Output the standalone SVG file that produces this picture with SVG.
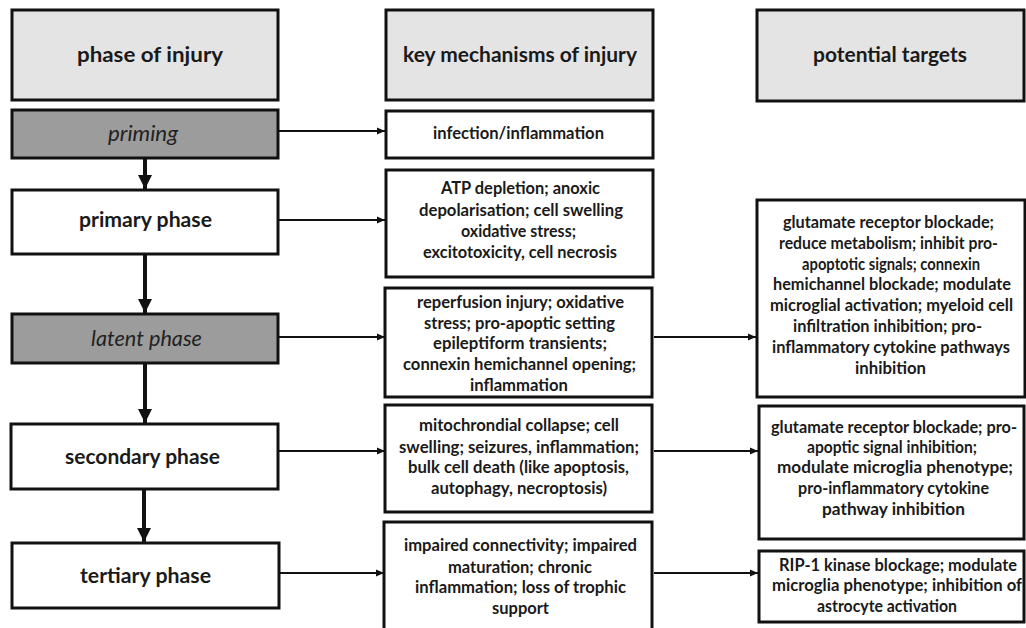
<svg xmlns="http://www.w3.org/2000/svg" width="1026" height="628" viewBox="0 0 1026 628">
<defs>
<style>
.box{stroke:#111;stroke-width:3;fill:#fff}
.hdr{fill:#e4e4e4}
.dark{fill:#9c9c9c}
text{font-family:Lato,"Liberation Sans",sans-serif;fill:#1a1a1a}
.h{font-size:21.5px;font-weight:bold}
.b{font-size:16.5px;font-weight:bold}
.l{font-size:21px;font-weight:bold}
.i{font-size:21px;font-style:italic;fill:#222}
.thin{stroke:#111;stroke-width:2;fill:none}
.thick{stroke:#111;stroke-width:4;fill:none}
</style>
<marker id="ah" markerWidth="8" markerHeight="8" refX="8" refY="4" orient="auto" markerUnits="userSpaceOnUse"><path d="M0,0.5 L8,4 L0,7.5 Z" fill="#111"/></marker>
<marker id="ahb" markerWidth="16" markerHeight="14" refX="14" refY="7" orient="auto" markerUnits="userSpaceOnUse"><path d="M0,0 L14,7 L0,14 Z" fill="#111"/></marker>
</defs>

<g id="connectors">
<line class="thin" x1="279" y1="131" x2="385" y2="131" marker-end="url(#ah)"/>
<line class="thin" x1="279" y1="220" x2="385" y2="220" marker-end="url(#ah)"/>
<line class="thin" x1="279" y1="337" x2="385" y2="337" marker-end="url(#ah)"/>
<line class="thin" x1="279" y1="451" x2="385" y2="451" marker-end="url(#ah)"/>
<line class="thin" x1="279" y1="573" x2="384" y2="573" marker-end="url(#ah)"/>
<line class="thin" x1="654" y1="337" x2="756" y2="337" marker-end="url(#ah)"/>
<line class="thin" x1="654" y1="451" x2="758" y2="451" marker-end="url(#ah)"/>
<line class="thin" x1="654" y1="573" x2="758" y2="573" marker-end="url(#ah)"/>
<line class="thick" x1="145" y1="159" x2="145" y2="189" marker-end="url(#ahb)"/>
<line class="thick" x1="145" y1="255" x2="145" y2="313" marker-end="url(#ahb)"/>
<line class="thick" x1="145" y1="364" x2="145" y2="423" marker-end="url(#ahb)"/>
<line class="thick" x1="144" y1="490" x2="144" y2="542" marker-end="url(#ahb)"/>
</g>

<g id="hdr-phase"><rect class="box hdr" x="12" y="10" width="266" height="90"/><text class="h" x="77" y="62" textLength="146" lengthAdjust="spacingAndGlyphs">phase of injury</text></g>
<g id="hdr-mech"><rect class="box hdr" x="386" y="10" width="267" height="90"/><text class="h" x="403" y="62" textLength="234" lengthAdjust="spacingAndGlyphs">key mechanisms of injury</text></g>
<g id="hdr-targets"><rect class="box hdr" x="757" y="10" width="267" height="91"/><text class="h" x="813" y="62" textLength="154" lengthAdjust="spacingAndGlyphs">potential targets</text></g>

<g id="priming"><rect class="box dark" x="12" y="110" width="266" height="48"/><text class="i" x="108" y="141" textLength="70" lengthAdjust="spacingAndGlyphs">priming</text></g>
<g id="primary"><rect class="box" x="12" y="190" width="266" height="64"/><text class="l" x="79" y="227" textLength="133" lengthAdjust="spacingAndGlyphs">primary phase</text></g>
<g id="latent"><rect class="box dark" x="12" y="314" width="266" height="49"/><text class="i" x="91" y="346" textLength="111" lengthAdjust="spacingAndGlyphs">latent phase</text></g>
<g id="secondary"><rect class="box" x="11" y="424" width="267" height="65"/><text class="l" x="65" y="464" textLength="155" lengthAdjust="spacingAndGlyphs">secondary phase</text></g>
<g id="tertiary"><rect class="box" x="12" y="543" width="267" height="65"/><text class="l" x="80" y="583" textLength="131" lengthAdjust="spacingAndGlyphs">tertiary phase</text></g>

<g id="mech-priming"><rect class="box" x="386" y="111" width="267" height="47"/><text class="b" x="433" y="139" textLength="171" lengthAdjust="spacingAndGlyphs">infection/inflammation</text></g>
<g id="mech-primary"><rect class="box" x="386" y="170" width="267" height="107"/>
<text class="b" x="441" y="194" textLength="159" lengthAdjust="spacingAndGlyphs">ATP depletion; anoxic</text>
<text class="b" x="419" y="216" textLength="204" lengthAdjust="spacingAndGlyphs">depolarisation; cell swelling</text>
<text class="b" x="461" y="237" textLength="115" lengthAdjust="spacingAndGlyphs">oxidative stress;</text>
<text class="b" x="423" y="258" textLength="194" lengthAdjust="spacingAndGlyphs">excitotoxicity, cell necrosis</text></g>
<g id="mech-latent"><rect class="box" x="385" y="288" width="267" height="109"/>
<text class="b" x="417" y="308" textLength="207" lengthAdjust="spacingAndGlyphs">reperfusion injury; oxidative</text>
<text class="b" x="424" y="329" textLength="191" lengthAdjust="spacingAndGlyphs">stress; pro-apoptic setting</text>
<text class="b" x="433" y="349" textLength="174" lengthAdjust="spacingAndGlyphs">epileptiform transients;</text>
<text class="b" x="403" y="370" textLength="233" lengthAdjust="spacingAndGlyphs">connexin hemichannel opening;</text>
<text class="b" x="470" y="391" textLength="98" lengthAdjust="spacingAndGlyphs">inflammation</text></g>
<g id="mech-secondary"><rect class="box" x="385" y="405" width="267" height="107"/>
<text class="b" x="419" y="431" textLength="200" lengthAdjust="spacingAndGlyphs">mitochrondial collapse; cell</text>
<text class="b" x="399" y="453" textLength="240" lengthAdjust="spacingAndGlyphs">swelling; seizures, inflammation;</text>
<text class="b" x="408" y="473" textLength="221" lengthAdjust="spacingAndGlyphs">bulk cell death (like apoptosis,</text>
<text class="b" x="431" y="494" textLength="176" lengthAdjust="spacingAndGlyphs">autophagy, necroptosis)</text></g>
<g id="mech-tertiary"><rect class="box" x="384" y="522" width="268" height="110"/>
<text class="b" x="404" y="551" textLength="233" lengthAdjust="spacingAndGlyphs">impaired connectivity; impaired</text>
<text class="b" x="448" y="573" textLength="144" lengthAdjust="spacingAndGlyphs">maturation; chronic</text>
<text class="b" x="415" y="593" textLength="211" lengthAdjust="spacingAndGlyphs">inflammation; loss of trophic</text>
<text class="b" x="492" y="614" textLength="57" lengthAdjust="spacingAndGlyphs">support</text></g>

<g id="target-latent"><rect class="box" x="757" y="200" width="268" height="197"/>
<text class="b" x="783" y="228" textLength="211" lengthAdjust="spacingAndGlyphs">glutamate receptor blockade;</text>
<text class="b" x="779" y="249" textLength="219" lengthAdjust="spacingAndGlyphs">reduce metabolism; inhibit pro-</text>
<text class="b" x="802" y="270" textLength="178" lengthAdjust="spacingAndGlyphs">apoptotic signals; connexin</text>
<text class="b" x="773" y="290" textLength="238" lengthAdjust="spacingAndGlyphs">hemichannel blockade; modulate</text>
<text class="b" x="770" y="311" textLength="243" lengthAdjust="spacingAndGlyphs">microglial activation; myeloid cell</text>
<text class="b" x="793" y="332" textLength="189" lengthAdjust="spacingAndGlyphs">infiltration inhibition; pro-</text>
<text class="b" x="772" y="353" textLength="238" lengthAdjust="spacingAndGlyphs">inflammatory cytokine pathways</text>
<text class="b" x="855" y="374" textLength="71" lengthAdjust="spacingAndGlyphs">inhibition</text></g>
<g id="target-secondary"><rect class="box" x="759" y="406" width="265" height="133"/>
<text class="b" x="771" y="433" textLength="246" lengthAdjust="spacingAndGlyphs">glutamate receptor blockade; pro-</text>
<text class="b" x="807" y="453" textLength="170" lengthAdjust="spacingAndGlyphs">apoptic signal inhibition;</text>
<text class="b" x="777" y="473" textLength="236" lengthAdjust="spacingAndGlyphs">modulate microglia phenotype;</text>
<text class="b" x="798" y="494" textLength="191" lengthAdjust="spacingAndGlyphs">pro-inflammatory cytokine</text>
<text class="b" x="822" y="515" textLength="143" lengthAdjust="spacingAndGlyphs">pathway inhibition</text></g>
<g id="target-tertiary"><rect class="box" x="759" y="551" width="265" height="71"/>
<text class="b" x="779" y="571" textLength="238" lengthAdjust="spacingAndGlyphs">RIP-1 kinase blockage; modulate</text>
<text class="b" x="772" y="591" textLength="250" lengthAdjust="spacingAndGlyphs">microglia phenotype; inhibition of</text>
<text class="b" x="817" y="612" textLength="140" lengthAdjust="spacingAndGlyphs">astrocyte activation</text></g>
</svg>
